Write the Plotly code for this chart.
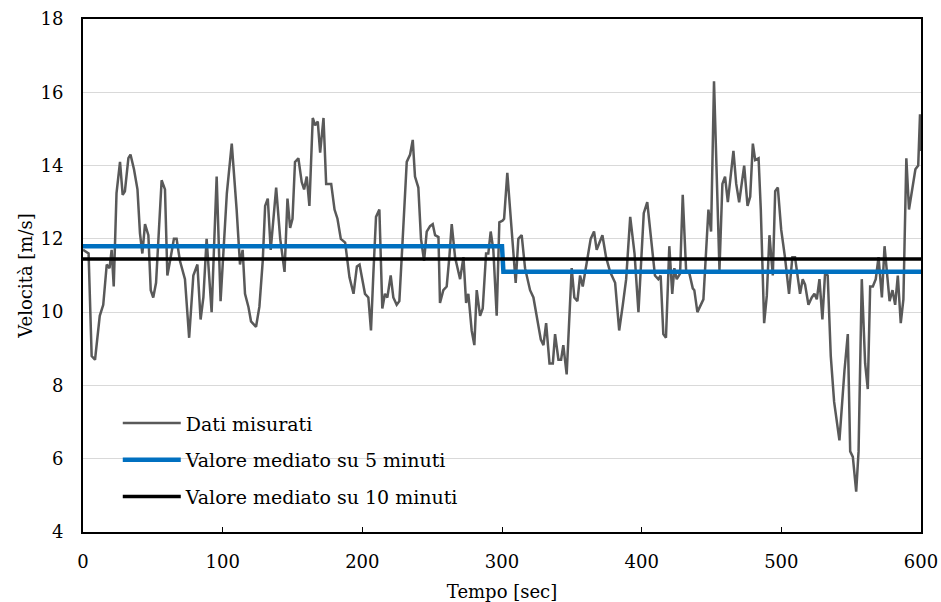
import plotly.graph_objects as go

time_s = [0, 2, 4, 6.2, 8.6, 12, 14.5, 17, 19, 20.5, 22, 24, 26.5, 28.4, 30, 32.5, 34, 36.5, 39, 40.8,
          42.5, 44.4, 46.8, 48.5, 50.3, 52.3, 56.3, 58.7, 60.4, 62.8, 65.1, 67, 69.4, 73, 76, 79, 81.9,
          84.2, 86.2, 88.5, 92.1, 95.7, 98.5, 103, 106.5, 110, 112.4, 114.3, 116, 118.4, 120.3, 123.9,
          126.3, 128.7, 130.4, 132.3, 134.4, 138.3, 141.2, 144.3, 146.4, 148.3, 150, 151.8, 154.2,
          156.6, 158.3, 160.2, 162.1, 164.5, 166.2, 168.1, 169.8, 172.2, 174.1, 177.7, 180.1, 182.2,
          184.6, 187.7, 190.8, 193.7, 196.1, 198, 201.9, 204.3, 206.2, 207.9, 209.8, 212.2, 214.3,
          216.2, 217.9, 220.3, 222.2, 224.6, 226.5, 228.9, 231.8, 234.2, 236.1, 237.7, 240.1, 242,
          244.2, 246.1, 248.5, 250.4, 252.1, 254.5, 255.6, 258, 260.4, 262.3, 264, 266.4, 270, 272.4,
          274.3, 275.9, 278.3, 280.2, 281.9, 284.3, 286.2, 288.6, 290.2, 291.9, 293.8, 296.2, 298.1,
          300.5, 301.5, 303.8, 306.9, 309.8, 311.7, 314.1, 316.5, 320.1, 322.5, 324.9, 327.8, 329.7,
          331.6, 334, 336.4, 338, 340.4, 342.3, 343.9, 346.3, 349.9, 351.8, 354, 355.9, 357.8, 361.1,
          363.5, 365.9, 367.8, 369.8, 371.9, 374.5, 377.4, 381, 383.9, 386.5, 388.9, 391.8, 394.9,
          397.7, 401.5, 404, 406.4, 409.5, 411.9, 413.6, 415.5, 417.4, 419.8, 421.9, 423.4, 425.1,
          427.5, 429.4, 431.8, 434.2, 436.6, 437.7, 439.9, 444.2, 447.8, 449.7, 451.8, 455.7, 457.8,
          459.7, 461.7, 465.7, 467.7, 469.8, 473.4, 475.8, 477.7, 479.6, 481.3, 483.7, 485.3, 487.7,
          489.6, 491.5, 493.9, 495.6, 497.5, 499.9, 502.6, 505.5, 507.9, 509.8, 513.4, 515.3, 517,
          519.4, 521.8, 523.7, 525.4, 527.3, 529.4, 531.3, 533.2, 535.4, 537.8, 541.6, 545.2, 547.6,
          549.3, 551.2, 553.6, 555.3, 557.6, 560, 561.9, 563.6, 565.5, 567.6, 569.6, 572, 573.9,
          575.5, 577.5, 579.6, 581.5, 583.4, 585.5, 587.4, 589.5, 591.4, 594, 596, 598, 599.3, 600]
speed = [11.7, 11.65, 11.6, 8.8, 8.7, 9.9, 10.2, 11.3, 11.2, 11.7, 10.7, 13.25, 14.1, 13.2, 13.3, 14.2,
         14.3, 13.9, 13.35, 12.15, 11.6, 12.4, 12.1, 10.6, 10.4, 10.8, 13.6, 13.35, 11.0, 11.5, 12.0,
         12.0, 11.4, 10.9, 9.3, 11.0, 11.3, 9.8, 10.4, 12.0, 10.0, 13.7, 10.3, 13.25, 14.6, 12.8, 11.3,
         11.7, 10.5, 10.15, 9.75, 9.6, 10.15, 11.4, 12.9, 13.1, 11.7, 13.4, 12.0, 11.1, 13.1, 12.3,
         12.55, 14.1, 14.2, 13.55, 13.35, 13.7, 12.9, 15.3, 15.1, 15.2, 14.35, 15.3, 13.5, 13.5, 12.8,
         12.55, 12.0, 11.9, 10.95, 10.5, 11.25, 11.3, 10.5, 10.4, 9.5, 11.05, 12.6, 12.8, 10.1, 10.5,
         10.4, 11.0, 10.4, 10.2, 10.3, 12.0, 14.1, 14.3, 14.7, 13.7, 13.4, 12.0, 11.4, 12.2, 12.35,
         12.4, 12.1, 12.05, 10.25, 10.6, 10.7, 11.5, 12.4, 11.5, 10.9, 11.5, 10.25, 10.5, 9.5, 9.1,
         10.6, 9.9, 10.1, 11.6, 11.6, 12.2, 11.7, 9.9, 12.45, 12.5, 12.55, 13.8, 12.15, 10.8, 12.0,
         12.1, 11.2, 10.6, 10.4, 9.9, 9.25, 9.1, 9.7, 8.6, 8.6, 9.4, 8.7, 8.7, 9.1, 8.3, 11.2, 10.4,
         10.3, 11.0, 10.7, 11.45, 12.0, 12.2, 11.7, 11.9, 12.1, 11.5, 11.1, 10.8, 9.5, 10.2, 10.9,
         12.6, 11.6, 10.0, 12.7, 13.0, 12.15, 11.0, 10.9, 11.0, 9.4, 9.3, 11.8, 10.5, 11.2, 10.9,
         11.05, 13.2, 11.15, 11.05, 10.65, 10.6, 10.0, 10.35, 12.8, 12.2, 16.3, 11.15, 13.5, 13.7,
         13.0, 14.4, 13.5, 13.0, 14.0, 12.9, 13.15, 14.6, 14.15, 14.2, 12.8, 9.7, 10.45, 12.1, 11.0,
         13.3, 13.4, 12.25, 11.5, 10.5, 11.5, 11.5, 10.5, 10.9, 10.75, 10.2, 10.4, 10.5, 10.35, 10.9,
         9.8, 11.05, 11.0, 8.8, 7.55, 6.5, 8.4, 9.4, 6.2, 6.05, 5.1, 6.2, 10.9, 8.6, 7.9, 10.7, 10.7,
         10.9, 11.5, 10.4, 11.8, 11.15, 10.3, 10.6, 10.2, 11.0, 9.7, 10.35, 14.2, 12.8, 13.5, 13.9,
         14.0, 15.4, 14.4]

# 5-minute average
avg5_time = [0, 300, 301, 600]
avg5_speed = [11.8, 11.8, 11.1, 11.1]
# 10-minute average
avg10_time = [0, 600]
avg10_speed = [11.45, 11.45]

names = ["Dati misurati", "Valore mediato su 5 minuti", "Valore mediato su 10 minuti"]
x_ticks = [0, 100, 200, 300, 400, 500, 600]
y_ticks = [4, 6, 8, 10, 12, 14, 16, 18]

FONT = "DejaVu Serif"

fig = go.Figure()
fig.add_trace(go.Scatter(x=time_s, y=speed, mode="lines", name=names[0], legendgroup="a",
                         line=dict(color="#595959", width=2.5)))
fig.add_trace(go.Scatter(x=avg5_time, y=avg5_speed, mode="lines", name=names[1], legendgroup="b",
                         line=dict(color="#0070C0", width=4.5)))
fig.add_trace(go.Scatter(x=avg10_time, y=avg10_speed, mode="lines", name=names[2], legendgroup="c",
                         line=dict(color="#000000", width=3.5)))

fig.update_layout(
    width=941, height=602,
    margin=dict(l=83, r=20, t=19, b=70),
    plot_bgcolor="white", paper_bgcolor="white",
    font=dict(family=FONT, size=18, color="#000000"),
    showlegend=True,
    legend=dict(x=0.0415, y=0.249, xanchor="left", yanchor="top", bgcolor="rgba(255,255,255,0)",
                font=dict(family=FONT, size=19), tracegroupgap=9, itemwidth=58),
    xaxis=dict(range=[0, 600], tickvals=x_ticks, ticks="inside", ticklen=5, tickcolor="#000",
               showgrid=False, zeroline=False, showline=True, linecolor="#000", linewidth=2,
               mirror=True, ticklabelstandoff=12, automargin=False,
               title=dict(text="Tempo [sec]", standoff=15, font=dict(size=18))),
    yaxis=dict(range=[4, 18], tickvals=y_ticks, ticks="", showgrid=True, gridcolor="#d9d9d9",
               gridwidth=1, zeroline=False, showline=True, linecolor="#000", linewidth=2,
               mirror=True, ticklabelstandoff=14, automargin=False,
               title=dict(text="Velocità [m/s]", standoff=3, font=dict(size=18))),
)

fig.write_html("out.html",
               config={"displayModeBar": False},
               post_script="document.body.style.margin='0';document.body.style.overflow='hidden';")
